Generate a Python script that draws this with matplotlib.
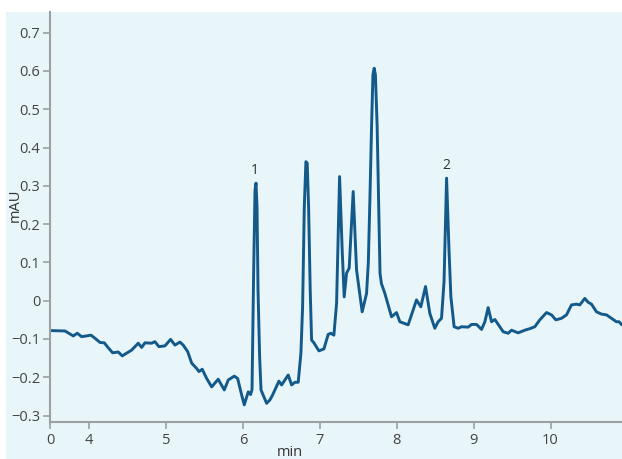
import matplotlib
matplotlib.use("Agg")
import matplotlib.pyplot as plt
from matplotlib.patches import Rectangle

# retention time (min) and absorbance (mAU)
time_min = [3.489, 3.684, 3.792, 3.844, 3.901, 4.022, 4.074, 4.139, 4.195, 4.247,
            4.304, 4.377, 4.429, 4.551, 4.637, 4.681, 4.724, 4.811, 4.854, 4.906,
            4.984, 5.058, 5.114, 5.179, 5.222, 5.280, 5.332, 5.397, 5.427, 5.469,
            5.527, 5.592, 5.677, 5.756, 5.808, 5.886, 5.930, 5.982, 6.016, 6.068,
            6.099, 6.117, 6.138, 6.156, 6.169, 6.182, 6.195, 6.216, 6.234, 6.307,
            6.350, 6.385, 6.467, 6.502, 6.588, 6.632, 6.675, 6.718, 6.753, 6.775,
            6.797, 6.818, 6.835, 6.853, 6.874, 6.892, 6.922, 6.987, 7.052, 7.108,
            7.143, 7.182, 7.217, 7.256, 7.290, 7.316, 7.347, 7.381, 7.433, 7.477,
            7.550, 7.607, 7.630, 7.650, 7.672, 7.690, 7.706, 7.722, 7.745, 7.765,
            7.782, 7.800, 7.845, 7.932,
            7.997, 8.040, 8.148, 8.257, 8.313, 8.374, 8.430, 8.495, 8.538, 8.582,
            8.615, 8.648, 8.680, 8.704, 8.746, 8.798, 8.843, 8.929, 8.973, 9.038,
            9.103, 9.146, 9.189, 9.233, 9.276, 9.341, 9.384, 9.449, 9.493, 9.579,
            9.666, 9.731, 9.796, 9.861, 9.948, 10.013, 10.069, 10.143, 10.208, 10.273,
            10.338, 10.381, 10.446, 10.489, 10.533, 10.598, 10.663, 10.728, 10.793, 10.858,
            10.892, 10.927]
absorbance = [-0.078, -0.079, -0.092, -0.085, -0.094, -0.090, -0.098, -0.109, -0.110, -0.123,
              -0.136, -0.134, -0.144, -0.129, -0.111, -0.122, -0.110, -0.111, -0.107, -0.120,
              -0.118, -0.101, -0.116, -0.108, -0.116, -0.133, -0.163, -0.177, -0.185, -0.179,
              -0.203, -0.225, -0.205, -0.233, -0.207, -0.197, -0.203, -0.246, -0.272, -0.238,
              -0.245, -0.232, 0.072, 0.289, 0.307, 0.245, 0.028, -0.146, -0.233, -0.268,
              -0.259, -0.246, -0.210, -0.220, -0.194, -0.220, -0.213, -0.213, -0.137, -0.016,
              0.245, 0.363, 0.359, 0.245, 0.028, -0.103, -0.110, -0.131, -0.126, -0.088,
              -0.085, -0.090, -0.007, 0.324, 0.132, 0.010, 0.072, 0.085, 0.285, 0.080,
              -0.029, 0.019, 0.100, 0.260, 0.454, 0.590, 0.607, 0.590, 0.454, 0.250,
              0.072, 0.045, 0.019, -0.042,
              -0.031, -0.055, -0.063, 0.002, -0.016, 0.037, -0.033, -0.072, -0.055, -0.046,
              0.050, 0.320, 0.130, 0.010, -0.068, -0.072, -0.068, -0.069, -0.062, -0.062,
              -0.075, -0.055, -0.018, -0.055, -0.049, -0.068, -0.081, -0.085, -0.077, -0.084,
              -0.077, -0.073, -0.068, -0.050, -0.031, -0.037, -0.050, -0.046, -0.037, -0.011,
              -0.009, -0.011, 0.006, -0.004, -0.009, -0.029, -0.035, -0.037, -0.046, -0.055,
              -0.055, -0.063]

peak_labels = ["1", "2"]
peak_times = [6.159, 8.648]
peak_heights = [0.307, 0.320]

x_ticks = [3.489, 4, 5, 6, 7, 8, 9, 10]
x_tick_labels = ["0", "4", "5", "6", "7", "8", "9", "10"]
y_ticks = [0.7, 0.6, 0.5, 0.4, 0.3, 0.2, 0.1, 0, -0.1, -0.2, -0.3]
y_tick_labels = ["0.7", "0.6", "0.5", "0.4", "0.3", "0.2", "0.1", "0", "\u22120.1", "\u22120.2", "\u22120.3"]

plt.rcParams['font.family'] = ['Open Sans', 'DejaVu Sans']

W, H = 622, 459
fig = plt.figure(figsize=(W / 100, H / 100), dpi=100)
fig.patch.set_facecolor('white')
fig.patches.append(Rectangle((6 / W, 0), 1 - 6 / W, 1 - 12 / H, transform=fig.transFigure,
                             facecolor='#e8f5f9', edgecolor='none', zorder=-10))

ax = fig.add_axes([50 / W, (H - 422.3) / H, (W - 50) / W, (422.3 - 12) / H])
ax.set_facecolor('none')
ax.plot(time_min, absorbance, color='#135a8a', lw=2.1, solid_joinstyle='round',
        solid_capstyle='round')
ax.set_xlim(3.489, 10.93)
ax.set_ylim(-0.3175, 0.7538)

for lab, t, h in zip(peak_labels, peak_times, peak_heights):
    ax.annotate(lab, (t, h), xytext=(0, 4), textcoords='offset points',
                ha='center', va='bottom', fontsize=10, color='#333333')

ax.set_xticks(x_ticks)
ax.set_xticklabels(x_tick_labels)
ax.set_yticks(y_ticks)
ax.set_yticklabels(y_tick_labels)
for s in ['top', 'right']:
    ax.spines[s].set_visible(False)
for s in ['left', 'bottom']:
    ax.spines[s].set_color('#9aa0a4')
    ax.spines[s].set_linewidth(1.5)
ax.tick_params(colors='#9aa0a4', width=1.2, length=5, labelcolor='#444444', labelsize=10.5)
ax.tick_params(axis='x', pad=3)
ax.tick_params(axis='y', pad=2)

fig.text(15 / W, 1 - 205 / H, 'mAU', rotation=90, ha='center', va='center',
         fontsize=10.5, color='#333333')
fig.text(290 / W, 1 - 445 / H, 'min', ha='center', va='top', fontsize=10.5, color='#333333')

fig.savefig('out.png', dpi=100)
